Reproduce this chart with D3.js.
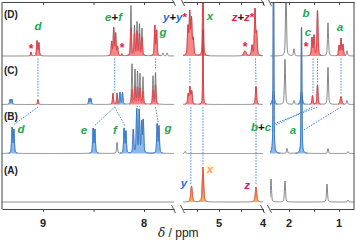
<!DOCTYPE html>
<html>
<head>
<meta charset="utf-8">
<script src="https://cdn.jsdelivr.net/npm/d3@7"></script>
<style>
  body { margin: 0; background: #fff; }
  svg { display: block; }
</style>
</head>
<body>
<div id="chart"></div>
<script>
/* ── data ───────────────────────────────────────────── */

// broken ppm axis: three windows
const segDomains = [[9.406, 7.703], [5.818, 4.0], [2.38, 0.70]];
const majorTicks = [[9, 8], [5, 4], [2, 1]];
const minorTicks = [[8.5], [5.5, 4.5], [1.5]];
const segWidths  = [0.0055, 0.015, 0.012];   // default half width (ppm)

const traceNames = ['D', 'C', 'B', 'A'];

// peaks: [ppm, intensity, group, half width]  group '' = grey only
const peaksD = [
  [9.119, 4, 'r'], [9.059, 15, 'r'], [9.041, 13, 'r'],
  [8.320, 14, 'r'], [8.300, 28, 'r'], [8.281, 22, 'r'], [8.262, 9, 'r'], [8.218, 2, 'r'],
  [8.129, 28, 'r'], [8.129, 22, ''], [8.094, 22, 'r'], [8.094, 8, ''],
  [8.069, 24, 'r'], [8.069, 9, ''], [8.045, 22, 'r'], [8.045, 9, ''],
  [8.020, 18, 'r'], [8.020, 9, ''],
  [7.893, 30, 'r'], [7.875, 25, 'r'], [7.812, 3, ''], [7.772, 3, ''],
  [5.705, 28, 'r'], [5.665, 42, 'r'], [5.625, 36, 'r'], [5.585, 16, 'r'],
  [5.364, 170, 'r', 0.008],
  [4.409, 5, 'r', 0.03], [4.25, 10, 'r'], [4.182, 46, 'r'], [4.145, 22, 'r'],
  [2.06, 70, ''], [1.90, 7, ''], [1.54, 18, 'r'], [1.50, 20, 'r'], [1.43, 46, 'r'],
  [1.22, 33, ''], [1.00, 10, 'r'], [0.96, 17, 'r'], [0.92, 11, 'r'], [0.84, 5, '']
];
const peaksC = [
  [9.326, 5, 'b'], [9.308, 5, 'b'], [9.050, 5, 'r'],
  [8.544, 6, 'b'], [8.526, 6, 'b'],
  [8.307, 11, 'r'], [8.267, 11, 'r'], [8.238, 12, 'b'], [8.213, 12, 'b'],
  [8.119, 15, 'r'], [8.119, 25, ''], [8.089, 18, 'r'], [8.089, 16, ''],
  [8.064, 17, 'r'], [8.064, 15, ''], [8.040, 16, 'r'], [8.040, 14, ''],
  [8.010, 13, 'r'], [8.010, 14, ''],
  [7.911, 14, 'r'], [7.911, 14, ''], [7.886, 20, 'r'], [7.886, 12, ''],
  [5.70, 10, 'r'], [5.66, 17, 'r'], [5.62, 13, 'r'],
  [5.364, 75, 'r', 0.008], [4.159, 18, 'r'],
  [2.31, 14, 'b', 0.018], [2.08, 45, ''], [1.90, 4, ''], [1.75, 13, 'b', 0.018],
  [1.53, 9, 'r'], [1.43, 20, 'r'], [1.22, 37, ''], [0.96, 8, 'r', 0.018], [0.84, 4, '']
];
const peaksB = [
  [9.306, 26, 'b'], [9.288, 24, 'b'],
  [8.504, 25, 'b'], [8.486, 24, 'b'],
  [8.267, 11, ''],
  [8.197, 25, 'b'], [8.179, 22, 'b'],
  [8.106, 24, 'b'], [8.072, 44, 'b'], [8.047, 43, 'b'], [8.023, 31, 'b'], [8.007, 33, 'b'],
  [7.870, 29, 'b'], [7.852, 27, 'b'],
  [5.77, 2, ''],
  [2.31, 220, 'b', 0.008], [2.04, 5, ''], [1.75, 131, 'b', 0.009], [1.22, 5, ''], [0.82, 2, '']
];
const peaksA = [
  [5.625, 16, 'o', 0.02], [5.364, 35, 'o', 0.018], [4.159, 15, 'o', 0.02],
  [2.36, 23, ''], [2.08, 21, ''], [1.24, 18, ''], [0.82, 2, '']
];
const tracePeaks = { D: peaksD, C: peaksC, B: peaksB, A: peaksA };

// assignment links: [from trace, ppm, to trace, ppm, fixed level]
const links = [
  ['D', 9.05, 'C', 9.05], ['D', 8.29, 'C', 8.29], ['D', 7.885, 'C', 7.886],
  ['C', 9.05, 'B', 9.297], ['C', 8.29, 'B', 8.495], ['C', 8.29, 'B', 8.188],
  ['C', 8.064, 'B', 8.072], ['C', 8.040, 'B', 8.047], ['C', 7.886, 'B', 7.861],
  ['D', 5.66, 'C', 5.66], ['D', 4.17, 'C', 4.159],
  ['C', 5.64, 'A', 5.64], ['C', 5.364, 'A', 5.364], ['C', 4.159, 'A', 4.159],
  ['D', 1.52, 'C', 1.52], ['D', 1.43, 'C', 1.43], ['D', 0.96, 'C', 0.96],
  ['C', 1.53, 'B', 2.28, 26], ['C', 1.43, 'B', 2.28, 28], ['C', 0.96, 'B', 1.72, 21]
];

/* ── layout ─────────────────────────────────────────── */

const W = 357, H = 240;
const segRanges = [[2, 174], [183, 263], [270, 354]];
const frameTop = 2, axisY = 209;
const baselines = { D: 56, C: 104.5, B: 153.5, A: 202 };

const GREEN = '#22a84c', RED = '#e8194a', BLUE = '#1f6fd6';
const groupStyle = {
  r: { fill: '#f58787', stroke: '#e8323c' },
  b: { fill: '#8cb9ec', stroke: '#2a78d6' },
  o: { fill: 'url(#orangeGrad)', stroke: '#ef5533' }
};

const xScales = segDomains.map((d, i) => d3.scaleLinear().domain(d).range(segRanges[i]));
const iScale = d3.scaleLinear().domain([0, 100]).range([0, 100]);

const svg = d3.select('#chart').append('svg')
  .attr('width', W).attr('height', H)
  .style('font-family', '"Liberation Sans", Arial, sans-serif');

const defs = svg.append('defs');
const grad = defs.append('linearGradient').attr('id', 'orangeGrad')
  .attr('x1', 0).attr('y1', 0).attr('x2', 0).attr('y2', 1);
grad.append('stop').attr('offset', '0%').attr('stop-color', '#ef3d35');
grad.append('stop').attr('offset', '100%').attr('stop-color', '#f9b464');

const glow = defs.append('radialGradient').attr('id', 'glow');
glow.append('stop').attr('offset', '0%').attr('stop-color', '#fff1b8').attr('stop-opacity', 0.9);
glow.append('stop').attr('offset', '100%').attr('stop-color', '#fff1b8').attr('stop-opacity', 0);

segRanges.forEach((r, i) => {
  defs.append('clipPath').attr('id', 'seg' + i).append('rect')
    .attr('x', r[0]).attr('y', frameTop + 0.5)
    .attr('width', r[1] - r[0]).attr('height', axisY - frameTop - 1);
});

/* ── spectrum helpers ───────────────────────────────── */

function shape(d, w) {
  const u = d / w;
  return 0.45 / (1 + u * u) + 0.55 * Math.exp(-Math.LN2 * u * u);
}

function intensity(peaks, seg, ppm, group) {
  let s = 0;
  for (const p of peaks) {
    if (group !== undefined && p[2] !== group) continue;
    const w = p[3] || segWidths[seg];
    s += p[1] * shape(ppm - p[0], w);
  }
  return s;
}

function segOf(ppm) {
  return segDomains.findIndex(d => ppm <= d[0] && ppm >= d[1]);
}

function peakTop(name, seg, ppm) {
  const x = xScales[seg];
  let m = 0;
  for (let dx = -1.5; dx <= 1.5; dx += 0.25) {
    m = Math.max(m, intensity(tracePeaks[name], seg, x.invert(x(ppm) + dx)));
  }
  return m;
}

/* ── traces ─────────────────────────────────────────── */

traceNames.forEach(name => {
  const peaks = tracePeaks[name];
  const base = baselines[name];
  xScales.forEach((x, seg) => {
    const g = svg.append('g').attr('clip-path', `url(#seg${seg})`);
    const [r0, r1] = segRanges[seg];
    const pts = [];
    for (let px = r0; px <= r1; px += 0.2) {
      const ppm = x.invert(px);
      pts.push({ x: px, ppm, v: intensity(peaks, seg, ppm) });
    }
    g.append('path').datum(pts)
      .attr('d', d3.line().x(d => d.x).y(d => base - iScale(d.v)))
      .attr('fill', 'none').attr('stroke', '#555').attr('stroke-width', 0.7);

    ['r', 'b', 'o'].forEach(grp => {
      if (!peaks.some(p => p[2] === grp && segOf(p[0]) === seg)) return;
      const gp = pts.map(d => ({ x: d.x, v: intensity(peaks, seg, d.ppm, grp) }));
      const st = groupStyle[grp];
      g.append('path').datum(gp)
        .attr('d', d3.area().defined(d => d.v > 0.35)
          .x(d => d.x).y0(base).y1(d => base - iScale(d.v)))
        .attr('fill', st.fill).attr('stroke', 'none');
      g.append('path').datum(gp)
        .attr('d', d3.line().defined(d => d.v > 0.35)
          .x(d => d.x).y(d => base - iScale(d.v)))
        .attr('fill', 'none').attr('stroke', st.stroke).attr('stroke-width', 0.8);
    });
  });
});

/* ── dashed assignment links ────────────────────────── */

links.forEach(([from, p1, to, p2, level]) => {
  const seg = segOf(p1);
  const x = xScales[seg];
  const top = level !== undefined ? level : peakTop(to, seg, p2);
  svg.append('line')
    .attr('x1', x(p1)).attr('y1', baselines[from] + 2.5)
    .attr('x2', x(p2)).attr('y2', baselines[to] - iScale(top) - 2)
    .attr('stroke', '#3d7fd9').attr('stroke-width', 0.9)
    .attr('stroke-dasharray', '1.6,1.2');
});

/* ── frame and broken axis ──────────────────────────── */

const frame = svg.append('g').attr('stroke', '#444').attr('stroke-width', 1).attr('fill', 'none');
frame.append('line').attr('x1', 2).attr('x2', 2).attr('y1', frameTop).attr('y2', axisY);
frame.append('line').attr('x1', 354).attr('x2', 354).attr('y1', frameTop).attr('y2', axisY);

xScales.forEach((x, i) => {
  const ticks = majorTicks[i].concat(minorTicks[i]);
  const bottom = svg.append('g').attr('transform', `translate(0,${axisY})`)
    .call(d3.axisBottom(x).tickValues(ticks).tickSize(3).tickSizeOuter(0).tickFormat(''));
  const top = svg.append('g').attr('transform', `translate(0,${frameTop})`)
    .call(d3.axisTop(x).tickValues(ticks).tickSize(-3).tickSizeOuter(0).tickFormat(''));
  [bottom, top].forEach(a => {
    a.selectAll('path, line').attr('stroke', '#444');
    a.select('.domain').attr('stroke-width', 1);
  });
  svg.selectAll(null).data(majorTicks[i]).join('text')
    .attr('x', d => x(d)).attr('y', 227)
    .attr('text-anchor', 'middle')
    .attr('font-size', 11).attr('font-weight', 'bold').attr('fill', '#222')
    .text(d => d);
});

// break marks
const breaks = [174, 183, 263, 270];
[frameTop, axisY].forEach(y => {
  breaks.forEach(bx => {
    svg.append('line')
      .attr('x1', bx - 2.5).attr('y1', y - 4).attr('x2', bx + 1.5).attr('y2', y + 4)
      .attr('stroke', '#444').attr('stroke-width', 0.9);
  });
});

const xlab = svg.append('text').attr('x', 158).attr('y', 237)
  .attr('font-size', 12).attr('fill', '#222');
xlab.append('tspan').attr('font-family', '"DejaVu Serif", serif').attr('font-style', 'italic').text('δ');
xlab.append('tspan').text(' / ppm');

/* ── labels ─────────────────────────────────────────── */

svg.selectAll(null).data(traceNames).join('text')
  .attr('x', 4).attr('y', d => ({ D: 18, C: 74, B: 120, A: 174 })[d])
  .attr('font-size', 10).attr('font-weight', 'bold').attr('fill', '#222')
  .text(d => `(${d})`);

svg.append('circle').attr('cx', 210).attr('cy', 169).attr('r', 8).attr('fill', 'url(#glow)');

const labels = [
  [38, 30, [['d', GREEN]]],
  [113.5, 21, [['e', GREEN], ['+', '#111'], ['f', GREEN]]],
  [163, 36, [['g', GREEN]]],
  [175, 21, [['y', BLUE], ['+', '#111'], ['y', BLUE], ['*', RED]]],
  [210, 20, [['x', GREEN]]],
  [243, 21, [['z', RED], ['+', '#111'], ['z', RED], ['*', RED]]],
  [306, 17, [['b', GREEN]]],
  [308, 36, [['c', GREEN]]],
  [340, 31, [['a', GREEN]]],
  [21, 133, [['d', GREEN]]],
  [84, 134, [['e', GREEN]]],
  [115, 134, [['f', GREEN]]],
  [168, 132, [['g', GREEN]]],
  [261, 131, [['b', GREEN], ['+', '#111'], ['c', GREEN]]],
  [293, 134, [['a', GREEN]]],
  [184, 187, [['y', BLUE]]],
  [210, 173, [['x', '#f7a07c']]],
  [247, 189, [['z', RED]]]
];

labels.forEach(([lx, ly, parts]) => {
  const t = svg.append('text').attr('x', lx).attr('y', ly)
    .attr('text-anchor', 'middle').attr('font-size', 11.5).attr('font-weight', 'bold');
  parts.forEach(([s, c]) => {
    t.append('tspan').attr('fill', c)
      .attr('font-style', s === '+' || s === '*' ? 'normal' : 'italic').text(s);
  });
});

// red asterisks marking side products
const stars = [[31, 53], [122, 52], [245, 51], [306, 51]];
svg.selectAll(null).data(stars).join('text')
  .attr('x', d => d[0]).attr('y', d => d[1])
  .attr('text-anchor', 'middle').attr('font-size', 12).attr('font-weight', 'bold')
  .attr('fill', RED).text('*');
</script>
</body>
</html>
